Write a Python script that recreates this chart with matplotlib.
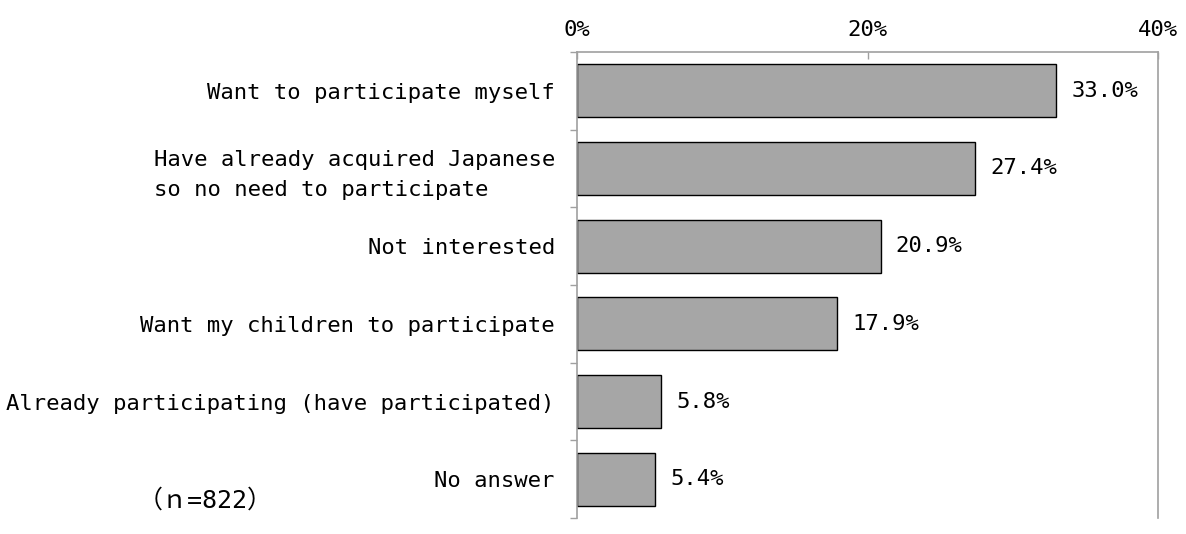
import matplotlib.pyplot as plt
from matplotlib.ticker import FixedLocator, PercentFormatter

categories = [
    "Want to participate myself",
    "Have already acquired Japanese\nso no need to participate",
    "Not interested",
    "Want my children to participate",
    "Already participating (have participated)",
    "No answer",
]
values = [33.0, 27.4, 20.9, 17.9, 5.8, 5.4]
x_ticks = [0, 20, 40]
sample_note = "（ｎ=822）"

fonts = ["DejaVu Sans Mono", "Noto Sans CJK JP"]
plt.rcParams["font.family"] = fonts
fs = 16

fig = plt.figure(figsize=(11.86, 5.34), dpi=100)
ax = fig.add_axes([577 / 1186, 1 - 518 / 534, (1158 - 577) / 1186, (518 - 52) / 534])

pos = list(range(len(categories)))
bars = ax.barh(pos, values, height=0.68, color="#a6a6a6", edgecolor="black", linewidth=1)
ax.bar_label(bars, labels=[f"{v:.1f}%" for v in values], padding=11, fontsize=fs)

ax.set_xlim(0, 40)
ax.set_ylim(len(categories) - 0.5, -0.5)

# x axis on top, ticks pointing in
ax.xaxis.tick_top()
ax.set_xticks(x_ticks)
ax.xaxis.set_major_formatter(PercentFormatter(decimals=0))
ax.tick_params(axis="x", direction="in", length=5, width=1, color="#a0a0a0",
               labelsize=fs, pad=9)

# y labels, ticks at category borders
ax.set_yticks(pos)
ax.set_yticklabels(categories, fontsize=fs, multialignment="left", linespacing=1.6)
ax.tick_params(axis="y", which="major", length=0, pad=16)
ax.yaxis.set_minor_locator(FixedLocator([p - 0.5 for p in pos] + [len(pos) - 0.5]))
ax.tick_params(axis="y", which="minor", length=5, width=1, color="#a0a0a0", direction="out")

for side in ["top", "left", "right"]:
    ax.spines[side].set_color("#a0a0a0")
    ax.spines[side].set_linewidth(1.2)
ax.spines["bottom"].set_visible(False)

fig.text(205 / 1186, 1 - 501 / 534, sample_note, ha="center", va="center", fontsize=18)

fig.savefig("out.png", dpi=100)
